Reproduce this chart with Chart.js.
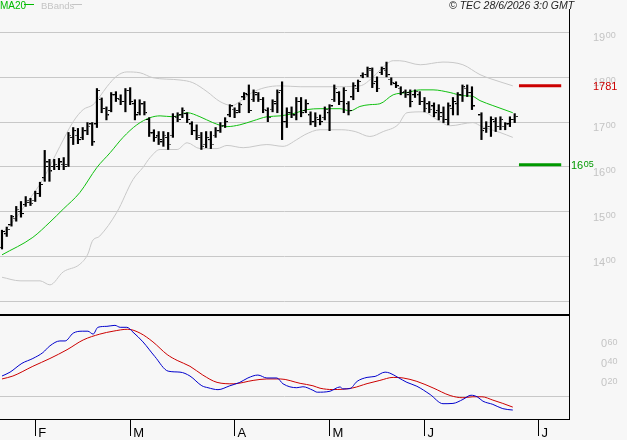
<!DOCTYPE html>
<html>
<head>
<meta charset="utf-8">
<script src="https://cdn.jsdelivr.net/npm/chart.js@4/dist/chart.umd.min.js"></script>
<style>
  html, body { margin: 0; padding: 0; background: #f7f7f7; }
  #wrap { position: relative; width: 627px; height: 440px; overflow: hidden; }
  #priceCanvas { position: absolute; left: 0; top: 0; }
  #macdCanvas { position: absolute; left: 0; top: 316px; }
</style>
</head>
<body>
<div id="wrap">
  <canvas id="priceCanvas" width="627" height="316"></canvas>
  <canvas id="macdCanvas" width="627" height="124"></canvas>
</div>
<script>
// daily bars, index 0 = first session on the chart (index 100 has no bar)
const highs = [1459,1466,1492,1512,1523,1534,1530,1546,1566,1637,
  1617,1617,1619,1621,1677,1688,1686,1688,1699,1699,
  1775,1754,1734,1766,1768,1761,1775,1777,1750,1750,
  1746,1710,1683,1679,1679,1677,1719,1721,1732,1721,
  1701,1694,1677,1679,1679,1688,1699,1710,1739,1732,
  1743,1766,1783,1772,1766,1755,1732,1750,1772,1790,
  1732,1734,1755,1755,1750,1723,1721,1716,1734,1739,
  1783,1768,1777,1746,1788,1794,1810,1823,1821,1801,
  1823,1834,1799,1790,1779,1772,1772,1772,1768,1755,
  1746,1743,1739,1734,1743,1755,1766,1783,1783,1779,
  null,1721,1701,1712,1710,1712,1699,1712,1719];
const lows = [1417,1445,1468,1479,1488,1512,1514,1523,1534,1568,
  1568,1594,1594,1594,1601,1650,1652,1661,1672,1648,
  1688,1721,1705,1723,1746,1739,1723,1739,1705,1716,
  1716,1668,1657,1650,1646,1639,1666,1701,1710,1699,
  1672,1661,1639,1643,1641,1666,1677,1688,1712,1710,
  1721,1750,1721,1746,1746,1721,1701,1723,1721,1661,
  1688,1710,1705,1712,1721,1694,1690,1694,1705,1681,
  1746,1739,1721,1716,1750,1768,1799,1801,1777,1768,
  1806,1801,1783,1777,1761,1755,1734,1755,1739,1723,
  1721,1712,1705,1699,1694,1716,1716,1746,1757,1728,
  null,1661,1677,1668,1679,1683,1683,1690,1699];
const opens = [1420,1450,1470,1485,1500,1515,1520,1525,1540,1575,
  1610,1600,1600,1605,1605,1665,1670,1665,1680,1695,
  1695,1750,1730,1725,1760,1750,1745,1770,1740,1720,
  1740,1705,1675,1668,1655,1665,1670,1710,1715,1718,
  1695,1680,1665,1650,1660,1670,1680,1692,1715,1728,
  1725,1755,1760,1750,1760,1750,1725,1728,1740,1770,
  1700,1720,1715,1745,1725,1715,1700,1705,1710,1720,
  1750,1765,1745,1740,1755,1775,1802,1805,1815,1790,
  1810,1815,1795,1785,1775,1768,1765,1760,1760,1745,
  1740,1735,1725,1720,1705,1730,1740,1760,1775,1765,
  null,1715,1685,1690,1700,1690,1690,1695,1705];
const closes = [1455,1460,1488,1505,1495,1525,1518,1540,1560,1600,
  1590,1605,1610,1600,1670,1680,1660,1680,1690,1655,
  1770,1730,1715,1760,1752,1745,1770,1745,1715,1740,
  1720,1675,1665,1660,1670,1650,1712,1705,1725,1705,
  1680,1670,1645,1665,1650,1680,1690,1700,1735,1720,
  1738,1762,1725,1765,1750,1728,1710,1745,1765,1700,
  1720,1715,1745,1720,1740,1700,1710,1700,1728,1735,
  1775,1745,1770,1725,1780,1790,1806,1818,1785,1775,
  1818,1805,1788,1780,1765,1760,1745,1768,1745,1730,
  1728,1720,1712,1705,1735,1745,1760,1778,1765,1735,
  null,1680,1690,1705,1690,1705,1695,1705,1712];

// MA20 and Bollinger bands (x = bar index)
const maX = [0,6.5,10.1,12.9,16.4,20,22.8,25.5,28.4,31.2,33.3,36,39,41.7,44.4,47.4,50.1,52.9,55.8,58.6,61.3,64.3,67,71.2,73.3,75.4,77.5,79.6,82.4,85.3,88.1,90.8,94.4,97.1,99,100.7,103.4,107.6];
const maY = [1404,1443,1477,1506,1543,1599,1632,1666,1694,1710,1714,1712,1721,1712,1699,1690,1694,1703,1712,1714,1719,1728,1730,1730,1725,1735,1739,1741,1761,1766,1772,1772,1766,1759,1758,1748,1737,1721];
const upX = [0,2.7,5.3,8.6,12.2,15,17.1,19.2,20.6,22.1,24.2,26.3,29.1,31.8,37.5,40.2,43.2,45.9,48.5,50.1,52.7,55.4,58.6,62.8,69.7,75.4,78.2,80.3,82.4,83.8,88.1,92.9,97.1,100.7,104.9,107.6];
const upY = [1452,1483,1521,1572,1646,1701,1728,1739,1757,1779,1803,1812,1810,1799,1794,1788,1768,1746,1737,1746,1766,1777,1781,1779,1779,1781,1801,1823,1837,1837,1828,1834,1828,1806,1790,1781];
const loX = [0,3.8,8,10.1,12.9,16.4,18.1,19,20.6,24.2,27.6,29.7,31.2,33.3,36.9,39,41.7,45.3,47.4,50.8,55.8,59.2,62.1,63.8,67,71.6,74.4,77.5,80.3,83.4,85.3,88.7,91.6,94.4,99.2,101.1,104.9,107.6];
const loY = [1354,1346,1346,1337,1366,1383,1406,1434,1446,1499,1572,1599,1621,1639,1639,1654,1641,1641,1648,1643,1650,1646,1661,1672,1683,1683,1679,1668,1679,1694,1721,1723,1706,1692,1699,1690,1677,1666];

// MACD panel
const macdX = [0,1.7,4.2,6.5,8.6,10.1,12.2,13.3,15,16.9,18.1,19.2,20.2,22.1,23.8,24.9,26.3,27.6,29.7,32.2,35,37.5,39.6,42.1,43.4,45.5,48,50.1,51.8,53.9,55.8,57.9,59.2,62.1,63.4,65.5,66.4,69.1,71.2,71.8,73.3,74.8,76.9,78.6,80.7,81.7,83.4,85.3,87.4,90.2,92.9,95,97.1,98.8,100.1,101.3,103.4,105.5,107.6];
const macdY = [0.21,0.25,0.34,0.39,0.45,0.52,0.57,0.57,0.65,0.67,0.67,0.64,0.71,0.72,0.73,0.71,0.71,0.66,0.56,0.41,0.26,0.25,0.21,0.11,0.09,0.07,0.11,0.145,0.19,0.22,0.19,0.19,0.13,0.09,0.10,0.064,0.044,0.054,0.098,0.078,0.081,0.155,0.196,0.206,0.25,0.24,0.196,0.145,0.105,0.02,-0.074,-0.071,-0.03,0.013,-0.003,-0.048,-0.081,-0.125,-0.139];
const signalX = [0,2.3,6.5,10.1,13.7,17.1,20.6,23.4,26.5,29.1,31.8,34.8,36.9,39.6,42.3,45.3,48.7,52.9,55.8,58.6,62.8,65.5,67,69.7,73.9,76.9,79.6,82.4,84.5,87.4,90.8,94.4,97.1,99.2,101.1,103.4,105.5,107.6];
const signalY = [0.18,0.21,0.31,0.39,0.48,0.58,0.64,0.67,0.69,0.65,0.56,0.43,0.37,0.31,0.22,0.145,0.13,0.165,0.18,0.18,0.135,0.11,0.085,0.071,0.088,0.132,0.165,0.196,0.19,0.155,0.088,0.01,-0.013,-0.003,-0.003,-0.037,-0.071,-0.109];

// support / resistance levels
const levelValues = [1781, 1605];
const levelFrom = 108.9, levelTo = 117.8;

// axes
const gridPrices = [1300,1400,1500,1600,1700,1800,1900];
const priceLabels = [1400,1500,1600,1700,1800,1900];
const macdLabels = [0.20,0.40,0.60];
const monthIdx = [7,27,49,69,89,113];
const monthNames = ['F','M','A','M','J','J'];

const FONT = '"Liberation Sans", Arial, sans-serif';
const X_MIN = -0.42, X_MAX = 119.44;

function pts(xs, ys) { return xs.map((x, i) => ({ x: x, y: ys[i] })); }

function tickImage(side) {
  const c = document.createElement('canvas');
  c.width = 6; c.height = 2;
  const g = c.getContext('2d');
  g.fillStyle = '#000';
  g.fillRect(side === 'left' ? 0 : 4, 0, 2, 1);
  return c;
}

function drawSplit(ctx, big, small, x, yBig, ySmall, color) {
  ctx.fillStyle = color;
  ctx.textAlign = 'left';
  ctx.textBaseline = 'alphabetic';
  ctx.font = '11px ' + FONT;
  ctx.fillText(big, x, yBig);
  const w = ctx.measureText(big).width;
  ctx.font = '9px ' + FONT;
  ctx.fillText(small, x + w + 0.5, ySmall);
}

const hlData = [], openData = [], closeData = [];
highs.forEach((h, i) => {
  if (h == null) return;
  hlData.push({ x: i, y: [lows[i], h] });
  openData.push({ x: i, y: opens[i] });
  closeData.push({ x: i, y: closes[i] });
});

const lineBase = { type: 'line', pointRadius: 0, borderWidth: 1, fill: false, cubicInterpolationMode: 'monotone' };

const pricePanel = {
  id: 'pricePanel',
  afterDraw(chart) {
    const ctx = chart.ctx, a = chart.chartArea, ys = chart.scales.y;
    ctx.save();
    ctx.fillStyle = '#000';
    ctx.fillRect(0, a.bottom, a.right, 2);          // panel separator
    ctx.fillRect(a.right, a.top, 1, chart.height - a.top);

    priceLabels.forEach(v => {
      const py = ys.getPixelForValue(v), s = String(v);
      drawSplit(ctx, s.slice(0, 2), s.slice(2), 593, py + 9, py + 6, '#c4c4c4');
    });

    // level labels
    let py = ys.getPixelForValue(levelValues[0]);
    ctx.fillStyle = '#cc0000';
    ctx.font = '11px ' + FONT;
    ctx.fillText(String(levelValues[0]), 593, py + 4.5);
    py = ys.getPixelForValue(levelValues[1]);
    const g = String(levelValues[1]);
    drawSplit(ctx, g.slice(0, 2), g.slice(2), 571, py + 4, py + 2, '#009900');

    // header
    ctx.font = '10px ' + FONT;
    ctx.fillStyle = '#00bb00';
    ctx.fillText('MA20', 0, 8.5);
    ctx.fillRect(24, 4, 10, 1);
    ctx.font = '9.5px ' + FONT;
    ctx.fillStyle = '#c4c4c4';
    ctx.fillText('BBands', 41, 8.5);
    ctx.fillRect(72, 4, 10, 1);
    ctx.font = 'italic 10.5px ' + FONT;
    ctx.fillStyle = '#222';
    ctx.fillText('\u00A9 TEC 28/6/2026 3:0 GMT', 449, 8.5);
    ctx.restore();
  }
};

const macdPanel = {
  id: 'macdPanel',
  afterDraw(chart) {
    const ctx = chart.ctx, a = chart.chartArea, ys = chart.scales.y;
    ctx.save();
    ctx.fillStyle = '#000';
    ctx.fillRect(a.right, 0, 1, a.bottom);
    macdLabels.forEach(v => {
      const py = ys.getPixelForValue(v), s = v.toFixed(2).split('.');
      drawSplit(ctx, s[0], s[1], 601, py + 9, py + 6.5, '#c4c4c4');
    });
    ctx.font = '9.5px ' + FONT;
    ctx.fillStyle = '#000';
    ctx.textBaseline = 'alphabetic';
    ctx.fillText('MACD', 3, 331);
    ctx.restore();
  }
};

new Chart(document.getElementById('priceCanvas'), {
  type: 'line',
  data: {
    datasets: [
      { type: 'scatter', data: openData, pointStyle: tickImage('left'), order: 0 },
      { type: 'scatter', data: closeData, pointStyle: tickImage('right'), order: 0 },
      { type: 'bar', data: hlData, backgroundColor: '#000', barThickness: 1.5, order: 1 },
      Object.assign({}, lineBase, { data: pts([levelFrom, levelTo], [levelValues[0], levelValues[0]]), borderColor: '#cc0000', borderWidth: 3, order: 0 }),
      Object.assign({}, lineBase, { data: pts([levelFrom, levelTo], [levelValues[1], levelValues[1]]), borderColor: '#009900', borderWidth: 3, order: 0 }),
      Object.assign({}, lineBase, { data: pts(maX, maY), borderColor: '#10c010', order: 2 }),
      Object.assign({}, lineBase, { data: pts(upX, upY), borderColor: '#c8c8c8', order: 3 }),
      Object.assign({}, lineBase, { data: pts(loX, loY), borderColor: '#c8c8c8', order: 3 })
    ]
  },
  options: {
    responsive: false,
    animation: false,
    devicePixelRatio: 1,
    events: [],
    layout: { autoPadding: false, padding: { top: 9, bottom: 2, left: 0, right: 0 } },
    plugins: { legend: { display: false }, tooltip: { enabled: false } },
    scales: {
      x: { type: 'linear', min: X_MIN, max: X_MAX, offset: false, display: false, grid: { offset: false } },
      y: {
        position: 'right', min: 1272, max: 1952.4,
        afterFit: s => { s.width = 58; },
        afterBuildTicks: s => { s.ticks = gridPrices.map(v => ({ value: v })); },
        ticks: { display: false },
        grid: { color: '#c8c8c8', drawTicks: false },
        border: { display: false }
      }
    }
  },
  plugins: [pricePanel]
});

new Chart(document.getElementById('macdCanvas'), {
  type: 'line',
  data: {
    datasets: [
      Object.assign({}, lineBase, { data: pts(macdX, macdY), borderColor: '#0000cc' }),
      Object.assign({}, lineBase, { data: pts(signalX, signalY), borderColor: '#cc0000' })
    ]
  },
  options: {
    responsive: false,
    animation: false,
    devicePixelRatio: 1,
    events: [],
    layout: { autoPadding: false, padding: 0 },
    plugins: { legend: { display: false }, tooltip: { enabled: false } },
    scales: {
      x: {
        type: 'linear', min: X_MIN, max: X_MAX, position: 'bottom', offset: false,
        afterFit: s => { s.height = 21; },
        afterBuildTicks: s => { s.ticks = monthIdx.map(v => ({ value: v })); },
        ticks: {
          callback: (v, i) => monthNames[i],
          align: 'start', labelOffset: 3, padding: -10,
          maxRotation: 0, autoSkip: false,
          color: '#000', font: { family: FONT, size: 13 }
        },
        grid: { drawOnChartArea: false, drawTicks: true, tickLength: 17, color: '#000' },
        border: { display: true, color: '#000', width: 1 }
      },
      y: {
        position: 'right', min: -0.231, max: 0.826,
        afterFit: s => { s.width = 58; },
        afterBuildTicks: s => { s.ticks = [{ value: 0 }]; },
        ticks: { display: false },
        grid: { color: '#c8c8c8', drawTicks: false },
        border: { display: false }
      }
    }
  },
  plugins: [macdPanel]
});
</script>
</body>
</html>
